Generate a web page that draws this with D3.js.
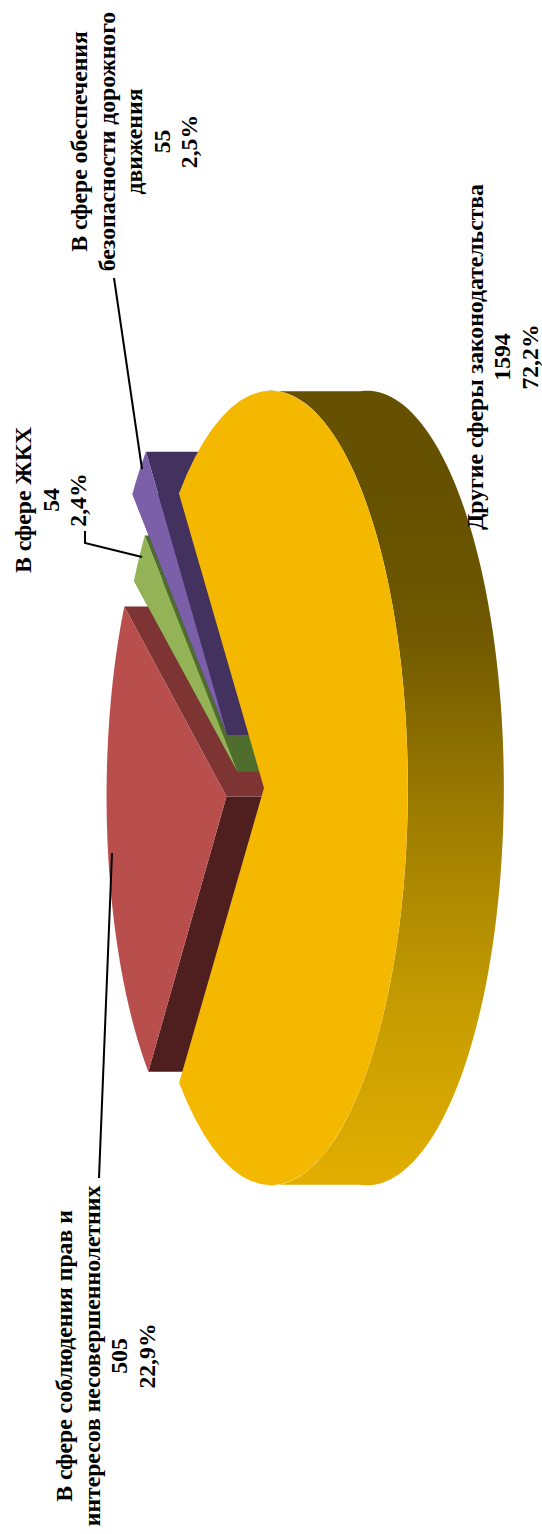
<!DOCTYPE html>
<html>
<head>
<meta charset="utf-8">
<script src="https://cdn.jsdelivr.net/npm/d3@7"></script>
<style>
  body { margin: 0; background: #fff; }
  text { font-family: "Liberation Serif", serif; font-weight: bold; fill: #000; }
</style>
</head>
<body>
<svg id="chart" width="542" height="1534"></svg>
<script>
// values, clockwise from the big slice
let categories = [
  ['Другие сферы законодательства'],
  ['В сфере соблюдения прав и', 'интересов несовершеннолетних'],
  ['В сфере ЖКХ'],
  ['В сфере обеспечения', 'безопасности дорожного', 'движения']
]
let counts = [1594, 505, 54, 55]
let shares = ['72,2%', '22,9%', '2,4%', '2,5%']

// per slice look, same order as above
let tops = ['#f4b800', '#b94f4c', '#93b356', '#7b5fa8']
let upperWalls = ['#665200', '#7f3434', '#4f6d2c', '#43325f']
let lowerWalls = ['#665200', '#4f1f1f', '#4f6d2c', '#3a2a66']
let explode = [0.14, 0.14, 0.07, 0.19]
let radius = [1, 0.945, 0.95, 0.98]
let labelAt = [[482.5, 357], [72, 1356], [31, 500], [87, 141.5]]

let svg = d3.select('#chart')

let depth = 96
let k = 0.05
let xScale = d3.scaleLinear().domain([-1, 1]).range([245 - 134.7, 245 + 134.7])
let yScale = d3.scaleLinear().domain([-1, 1]).range([788 - 394, 788 + 394])

// disc coordinates -> page, with a little perspective towards the right
let project = (X, Y, z) => {
  let w = 1 / (1 - k * X)
  return [xScale(X * w) + z * depth, yScale(Y * w)]
}

let slices = d3.pie().sort(null).startAngle(-40 * Math.PI / 180).endAngle(320 * Math.PI / 180)(counts)

let line = d3.line()

let rimPoint = (i, a, z) => {
  let mid = (slices[i].startAngle + slices[i].endAngle) / 2
  let X = explode[i] * Math.sin(mid) + radius[i] * Math.sin(a)
  let Y = -explode[i] * Math.cos(mid) - radius[i] * Math.cos(a)
  return project(X, Y, z)
}
let apexPoint = (i, z) => {
  let mid = (slices[i].startAngle + slices[i].endAngle) / 2
  return project(explode[i] * Math.sin(mid), -explode[i] * Math.cos(mid), z)
}

let defs = svg.append('defs')
let grad = defs.append('linearGradient')
  .attr('id', 'rim')
  .attr('gradientUnits', 'userSpaceOnUse')
  .attr('x1', 0).attr('x2', 0)
  .attr('y1', yScale(-1)).attr('y2', yScale(1))
grad.selectAll('stop')
  .data([[0.12, '#655100'], [0.3, '#6f5800'], [0.55, '#a07f00'], [0.8, '#c89e00'], [1, '#e2ae00']])
  .enter().append('stop')
  .attr('offset', d => d[0])
  .attr('stop-color', d => d[1])

// painter's order: far slices first, the big one on top
let order = [1, 2, 3, 0]
let toRad = Math.PI / 180

order.forEach(i => {
  let s = slices[i]
  let g = svg.append('g')

  if (i === 0) {
    // only the outer rim of the big slice shows
    let front = d3.range(0, 181, 2).map(d => d * toRad)
    let pts = front.map(a => rimPoint(0, a, 0)).concat(front.slice().reverse().map(a => rimPoint(0, a, 1)))
    g.append('path').attr('d', line(pts) + 'Z').attr('fill', 'url(#rim)')
  } else {
    let wall = (a, fill) => {
      let pts = [apexPoint(i, 0), rimPoint(i, a, 0), rimPoint(i, a, 1), apexPoint(i, 1)]
      g.append('path').attr('d', line(pts) + 'Z').attr('fill', fill)
    }
    wall(s.startAngle, lowerWalls[i])
    wall(s.endAngle, upperWalls[i])
  }

  let steps = d3.range(0, 61).map(t => s.startAngle + (s.endAngle - s.startAngle) * t / 60)
  let face = [apexPoint(i, 0)].concat(steps.map(a => rimPoint(i, a, 0)))
  g.append('path').attr('d', line(face) + 'Z').attr('fill', tops[i])
})

// leader lines
let leaders = [
  [[99, 1178], [112, 853]],
  [[85, 531], [85, 543], [142, 557]],
  [[114, 278], [142, 469]]
]
svg.selectAll('.leader')
  .data(leaders)
  .enter().append('path')
  .attr('class', 'leader')
  .attr('d', d => line(d))
  .attr('fill', 'none')
  .attr('stroke', '#000')
  .attr('stroke-width', 2)

// labels read bottom to top
let lineGap = 27.5
categories.forEach((cat, i) => {
  let rows = cat.concat([String(counts[i]), shares[i]])
  rows.forEach((row, r) => {
    svg.append('text')
      .attr('transform', 'translate(' + (labelAt[i][0] + r * lineGap) + ',' + labelAt[i][1] + ') rotate(-90)')
      .attr('text-anchor', 'middle')
      .attr('font-size', 23.7)
      .text(row)
  })
})
</script>
</body>
</html>
